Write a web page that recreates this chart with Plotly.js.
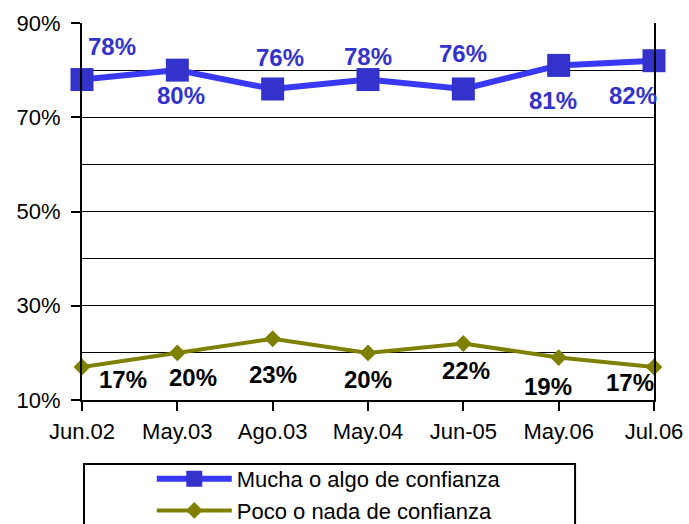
<!DOCTYPE html>
<html>
<head>
<meta charset="utf-8">
<script src="https://cdn.plot.ly/plotly-3.0.1.min.js"></script>
<style>html,body{margin:0;padding:0;background:#fff;}#chart{width:689px;height:524px;}</style>
</head>
<body>
<div id="chart"></div>
<script>
const categories = ["Jun.02", "May.03", "Ago.03", "May.04", "Jun-05", "May.06", "Jul.06"];
const muchaValues = [78, 80, 76, 78, 76, 81, 82];
const pocoValues = [17, 20, 23, 20, 22, 19, 17];
const yTickValues = [10, 30, 50, 70, 90];
const yTickLabels = ["10%", "30%", "50%", "70%", "90%"];
const yMinorValues = [20, 40, 60, 80];
const seriesNames = ["Mucha o algo de confianza", "Poco o nada de confianza"];

// label offsets (px) – styling only
const muchaShift = [[30, 33], [4, -25], [7, 31], [0, 23], [0, 35], [-6, -35], [-21, -35]];
const pocoShift = [[41, -12], [16, -25], [0, -36], [0, -27], [3, -27], [-11, -29], [-24, -15]];

const FONT = "Arial, 'Liberation Sans', sans-serif";

const traces = [
  {
    x: categories, y: muchaValues, name: seriesNames[0], type: "scatter", mode: "lines+markers",
    line: {color: "#3838f5", width: 6},
    marker: {symbol: "square", size: 23, color: "#3333cc"},
    cliponaxis: false
  },
  {
    x: categories, y: pocoValues, name: seriesNames[1], type: "scatter", mode: "lines+markers",
    line: {color: "#808000", width: 4},
    marker: {symbol: "diamond", size: 13, color: "#808000"},
    cliponaxis: false
  }
];

const annotations = [];
muchaValues.forEach((v, i) => annotations.push({
  x: categories[i], y: v, text: v + "%", showarrow: false,
  xshift: muchaShift[i][0], yshift: muchaShift[i][1],
  font: {family: FONT, size: 24, weight: "bold", color: "#3333cc"}
}));
pocoValues.forEach((v, i) => annotations.push({
  x: categories[i], y: v, text: v + "%", showarrow: false,
  xshift: pocoShift[i][0], yshift: pocoShift[i][1],
  font: {family: FONT, size: 24, weight: "bold", color: "#000000"}
}));

const layout = {
  width: 689, height: 524,
  margin: {l: 82, r: 35, t: 23, b: 124, autoexpand: false},
  paper_bgcolor: "#ffffff", plot_bgcolor: "#ffffff",
  font: {family: FONT, size: 22, color: "#000000"},
  showlegend: true,
  legend: {
    x: 0.122, xanchor: "left",
    yref: "container", y: 0.126, yanchor: "top",
    bgcolor: "rgba(0,0,0,0)", borderwidth: 0,
    font: {family: FONT, size: 22, color: "#000000"},
    tracegroupgap: 0, itemwidth: 75
  },
  xaxis: {
    type: "category", range: [0, 6],
    showgrid: false, showline: true, linecolor: "#000", linewidth: 2,
    ticks: "outside", ticklen: 9, tickcolor: "#000", tickwidth: 2,
    ticklabelstandoff: 2,
    tickfont: {family: FONT, size: 22, color: "#000"},
    fixedrange: true, zeroline: false
  },
  yaxis: {
    range: [10, 90], tickvals: yTickValues, ticktext: yTickLabels, tickmode: "array",
    showgrid: true, gridcolor: "#000", gridwidth: 1,
    minor: {tickvals: yMinorValues, showgrid: true, gridcolor: "#000", gridwidth: 1, ticks: ""},
    showline: true, linecolor: "#000", linewidth: 2, mirror: true,
    ticks: "outside", ticklen: 9, tickcolor: "#000", tickwidth: 2,
    ticklabelstandoff: 6,
    tickfont: {family: FONT, size: 22, color: "#000"},
    zeroline: false, fixedrange: true
  },
  annotations: annotations,
  shapes: [{
    type: "rect", xref: "paper", yref: "paper",
    x0: 0.0035, x1: 0.862, y0: -0.170, y1: -0.4,
    line: {color: "#000", width: 2}, fillcolor: "rgba(0,0,0,0)"
  }]
};

Plotly.newPlot("chart", traces, layout, {displayModeBar: false, staticPlot: true});
</script>
</body>
</html>
